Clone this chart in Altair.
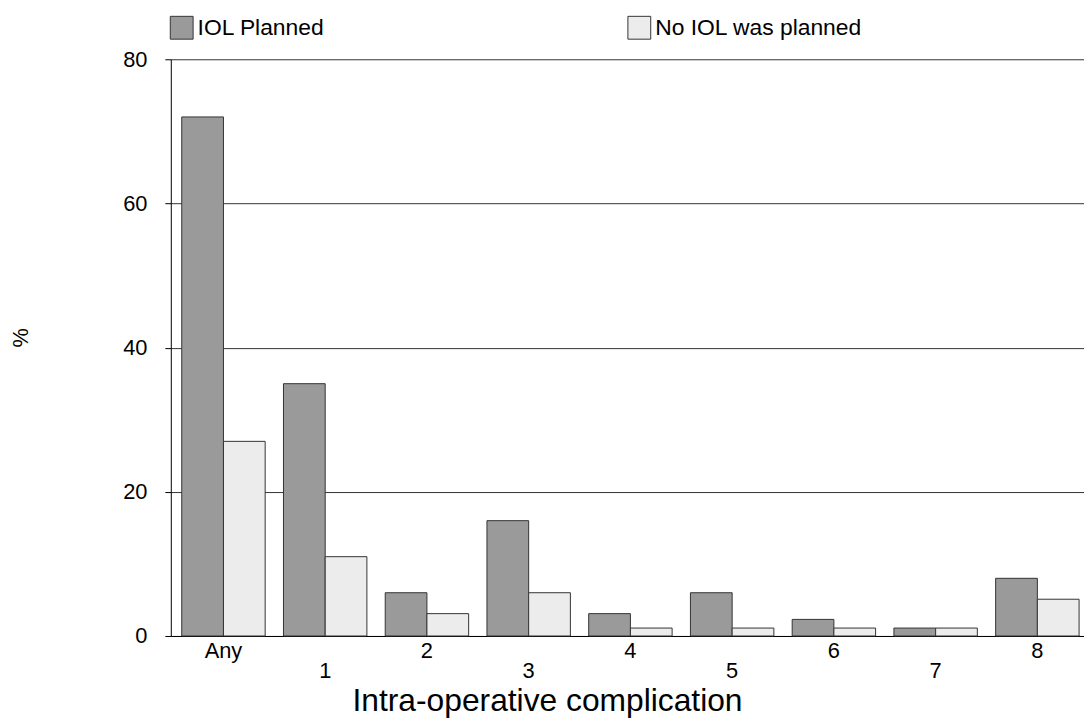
import altair as alt
import pandas as pd

categories = ["Any", "1", "2", "3", "4", "5", "6", "7", "8"]
iol_planned = [72, 35, 6, 16, 3.1, 6, 2.3, 1.1, 8]
no_iol_planned = [27, 11, 3.1, 6, 1.1, 1.1, 1.1, 1.1, 5.1]
series_names = ["IOL Planned", "No IOL was planned"]
series_colors = ["#9a9a9a", "#ececec"]
y_ticks = [0, 20, 40, 60, 80]

rows = []
for i, c in enumerate(categories):
    rows.append({"cat": c, "idx": i, "series": series_names[0], "value": iol_planned[i]})
    rows.append({"cat": c, "idx": i, "series": series_names[1], "value": no_iol_planned[i]})
df = pd.DataFrame(rows)
lab = pd.DataFrame({"cat": categories, "idx": list(range(len(categories)))})

W, H = 920, 581
FONT = "Liberation Sans"

x_enc = alt.X(
    "cat:N",
    sort=categories,
    scale=alt.Scale(paddingInner=0.18, paddingOuter=0.078, align=0.69),
    axis=alt.Axis(
        title="Intra-operative complication",
        labels=False,
        ticks=False,
        domain=True,
        domainColor="#000",
        domainWidth=1,
        grid=False,
        titleFontSize=32,
        titleFontWeight="normal",
        titleColor="#000",
        titleFont=FONT,
        titleX=379,
        titleY=75,
        titleAlign="center",
        titleBaseline="alphabetic",
    ),
)

bars = alt.Chart(df).mark_bar(stroke="#333", strokeWidth=1).encode(
    x=x_enc,
    xOffset=alt.XOffset("series:N", sort=series_names,
                        scale=alt.Scale(paddingInner=0, paddingOuter=0)),
    y=alt.Y(
        "value:Q",
        scale=alt.Scale(domain=[0, 80], nice=False),
        axis=alt.Axis(
            values=y_ticks,
            title="%",
            titleFontSize=22,
            titleFontWeight="normal",
            titleColor="#000",
            titleFont=FONT,
            titleX=-151,
            titleY=280,
            titleAngle=270,
            titleAlign="center",
            titleBaseline="middle",
            labelFontSize=22,
            labelFont=FONT,
            labelColor="#000",
            labelPadding=18,
            tickSize=6,
            tickColor="#000",
            domainColor="#000",
            grid=True,
            gridColor="#333",
            gridWidth=1,
        ),
    ),
    y2=alt.value(H + 3),
    color=alt.Color(
        "series:N",
        sort=series_names,
        scale=alt.Scale(domain=series_names, range=series_colors),
        legend=alt.Legend(
            orient="none",
            legendX=-1,
            legendY=-44,
            direction="horizontal",
            title=None,
            symbolType="square",
            symbolSize=529,
            symbolStrokeColor="#333",
            symbolStrokeWidth=1,
            symbolOpacity=1,
            labelFontSize=23,
            labelFont=FONT,
            labelColor="#000",
            labelLimit=500,
            labelOffset=4,
            columnPadding=303,
        ),
    ),
)

even_labels = alt.Chart(lab).transform_filter("datum.idx % 2 == 0").mark_text(
    fontSize=22, font=FONT, baseline="alphabetic", align="center", color="#000"
).encode(x=x_enc, y=alt.value(H + 22), text="cat:N")

odd_labels = alt.Chart(lab).transform_filter("datum.idx % 2 == 1").mark_text(
    fontSize=22, font=FONT, baseline="alphabetic", align="center", color="#000"
).encode(x=x_enc, y=alt.value(H + 42), text="cat:N")

chart = (
    alt.layer(bars, even_labels, odd_labels)
    .properties(
        width=W,
        height=H,
        autosize=alt.AutoSizeParams(type="none"),
        padding={"left": 164, "top": 49, "right": 0, "bottom": 84},
    )
    .configure(font=FONT)
    .configure_view(stroke=None)
)

chart.save("out.html", embed_options={"renderer": "svg", "actions": False})
